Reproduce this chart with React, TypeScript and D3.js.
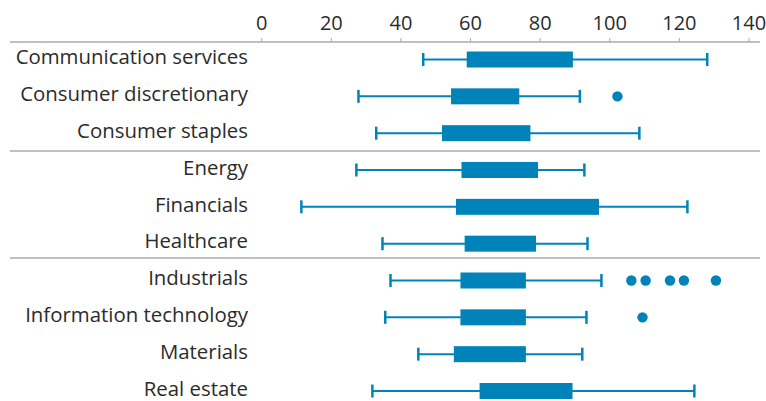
import React from "react";
import * as d3 from "d3";

const categories = [
  "Communication services",
  "Consumer discretionary",
  "Consumer staples",
  "Energy",
  "Financials",
  "Healthcare",
  "Industrials",
  "Information technology",
  "Materials",
  "Real estate",
];
const whiskerLow = [46.4, 27.8, 32.9, 27.2, 11.4, 34.7, 37.0, 35.5, 45.0, 31.8];
const q1 = [58.9, 54.4, 51.8, 57.4, 55.8, 58.3, 57.1, 57.1, 55.2, 62.6];
const q3 = [89.4, 74.0, 77.2, 79.4, 96.9, 78.8, 75.9, 75.9, 75.9, 89.3];
const whiskerHigh = [128.0, 91.4, 108.5, 92.7, 122.3, 93.6, 97.6, 93.3, 92.1, 124.3];
const outliers: number[][] = [
  [],
  [102.2],
  [],
  [],
  [],
  [],
  [106.2, 110.3, 117.3, 121.3, 130.5],
  [109.4],
  [],
  [],
];
const tickValues = [0, 20, 40, 60, 80, 100, 120, 140];
const separatorsAfter = [2, 5];

const W = 766;
const H = 401;
const BLUE = "#0083b9";
const GRID = "#ababab";
const TEXT = "#2b2b2b";
const FONT = "'Open Sans', sans-serif";

export default function App() {
  const x = d3.scaleLinear().domain([0, 140]).range([261.7, 749]);
  const y = d3.scaleLinear().domain([0, 9]).range([59.5, 391]);
  const axisY = 42;
  const sepY = [151, 258];
  const boxH = 16;
  const capH = 13;

  return (
    <svg
      width={W}
      height={H}
      style={{ position: "absolute", left: 0, top: 0 }}
      fontFamily={FONT}
    >
      <line x1={10} x2={760} y1={axisY} y2={axisY} stroke={GRID} strokeWidth={1.3} />
      {tickValues.map((t) => (
        <g key={t}>
          <line x1={x(t)} x2={x(t)} y1={axisY - 4} y2={axisY} stroke={GRID} strokeWidth={1} />
          <text x={x(t)} y={29.5} textAnchor="middle" fontSize={20} fill={TEXT}>
            {t}
          </text>
        </g>
      ))}
      {separatorsAfter.map((s, i) => (
        <line key={s} x1={10} x2={760} y1={sepY[i]} y2={sepY[i]} stroke={GRID} strokeWidth={1.3} />
      ))}
      {categories.map((c, i) => {
        const cy = y(i);
        return (
          <g key={c}>
            <text x={248} y={cy + 4.8} textAnchor="end" fontSize={20.4} fill={TEXT}>
              {c}
            </text>
            <line x1={x(whiskerLow[i])} x2={x(whiskerHigh[i])} y1={cy} y2={cy} stroke={BLUE} strokeWidth={2} />
            <line x1={x(whiskerLow[i])} x2={x(whiskerLow[i])} y1={cy - capH / 2} y2={cy + capH / 2} stroke={BLUE} strokeWidth={2.5} />
            <line x1={x(whiskerHigh[i])} x2={x(whiskerHigh[i])} y1={cy - capH / 2} y2={cy + capH / 2} stroke={BLUE} strokeWidth={2.5} />
            <rect x={x(q1[i])} y={cy - boxH / 2} width={x(q3[i]) - x(q1[i])} height={boxH} fill={BLUE} />
            {outliers[i].map((o, j) => (
              <circle key={j} cx={x(o)} cy={cy} r={5.2} fill={BLUE} />
            ))}
          </g>
        );
      })}
    </svg>
  );
}
